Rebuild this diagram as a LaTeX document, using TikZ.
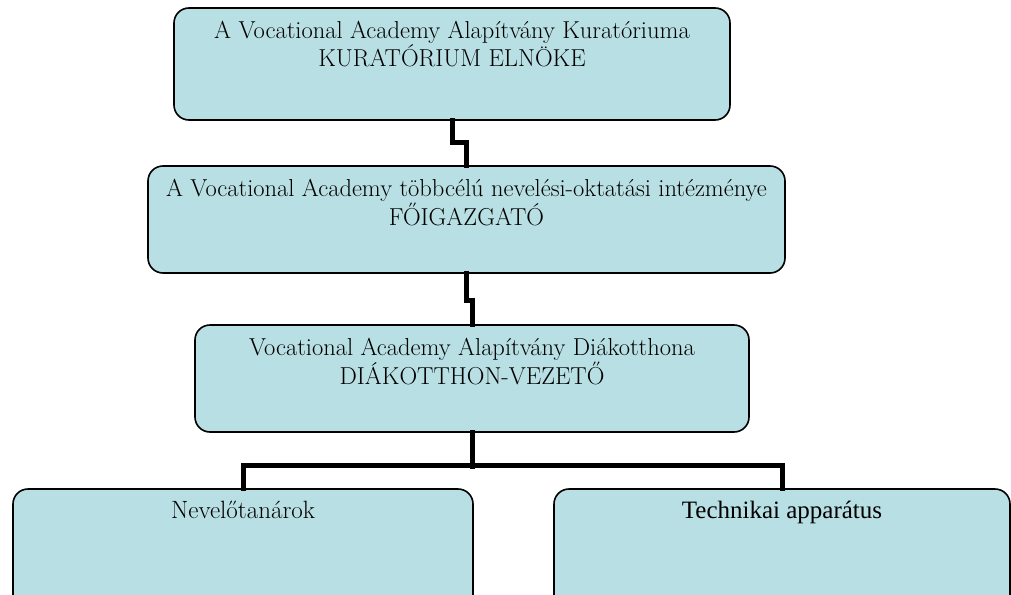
\documentclass[tikz,border=0pt]{standalone}
\usepackage{fontspec}
\newfontfamily\timesfont{Liberation Serif}
\usetikzlibrary{positioning}

\definecolor{boxfill}{RGB}{184,223,227}

\tikzset{
  orgbox/.style={draw=black, line width=1.6pt, fill=boxfill, rounded corners=15pt},
  boxtext/.style={inner sep=0pt, align=center, anchor=north,
    font=\fontsize{24.5}{24}\selectfont},
  conn/.style={line width=5pt, line cap=rect}
}

\begin{document}
\begin{tikzpicture}[x=1pt, y=-1pt]
    \useasboundingbox (0,0) rectangle (1011,594);

    % --- Boxes ---
    \node[orgbox, minimum width=556pt, minimum height=112pt] (kurat) at (452,64) {};
    \node[boxtext, below=14pt of kurat.north] (kuratT)
        {A Vocational Academy Alapítvány Kuratóriuma\\KURATÓRIUM ELNÖKE};

    \node[orgbox, minimum width=637pt, minimum height=107pt] (foig) at (466.5,219.5) {};
    \node[boxtext, below=14pt of foig.north] (foigT)
        {A Vocational Academy többcélú nevelési-oktatási intézménye\\FŐIGAZGATÓ};

    \node[orgbox, minimum width=554pt, minimum height=107pt] (diak) at (472,378.5) {};
    \node[boxtext, below=14pt of diak.north] (diakT)
        {Vocational Academy Alapítvány Diákotthona\\DIÁKOTTHON-VEZETŐ};

    \node[orgbox, minimum width=460pt, minimum height=121pt] (nevelo) at (243,549.5) {};
    \node[boxtext, font=\fontsize{25}{27}\selectfont,
        below=13pt of nevelo.north] (neveloT) {Nevelőtanárok};

    \node[orgbox, minimum width=456pt, minimum height=121pt] (techn) at (782,549.5) {};
    \node[boxtext, font=\timesfont\fontsize{25}{27}\selectfont,
        below=13pt of techn.north] (technT) {Technikai apparátus};

    % --- Connectors ---
    \draw[conn] (kurat.south) -- ++(0,22) -| (foig.north);
    \draw[conn] (foig.south) -- ++(0,27) -| (diak.north);
    \draw[conn] (diak.south) -- ++(0,34);
    \draw[conn] (nevelo.north) -- ++(0,-23) -| (techn.north);
\end{tikzpicture}
\end{document}
